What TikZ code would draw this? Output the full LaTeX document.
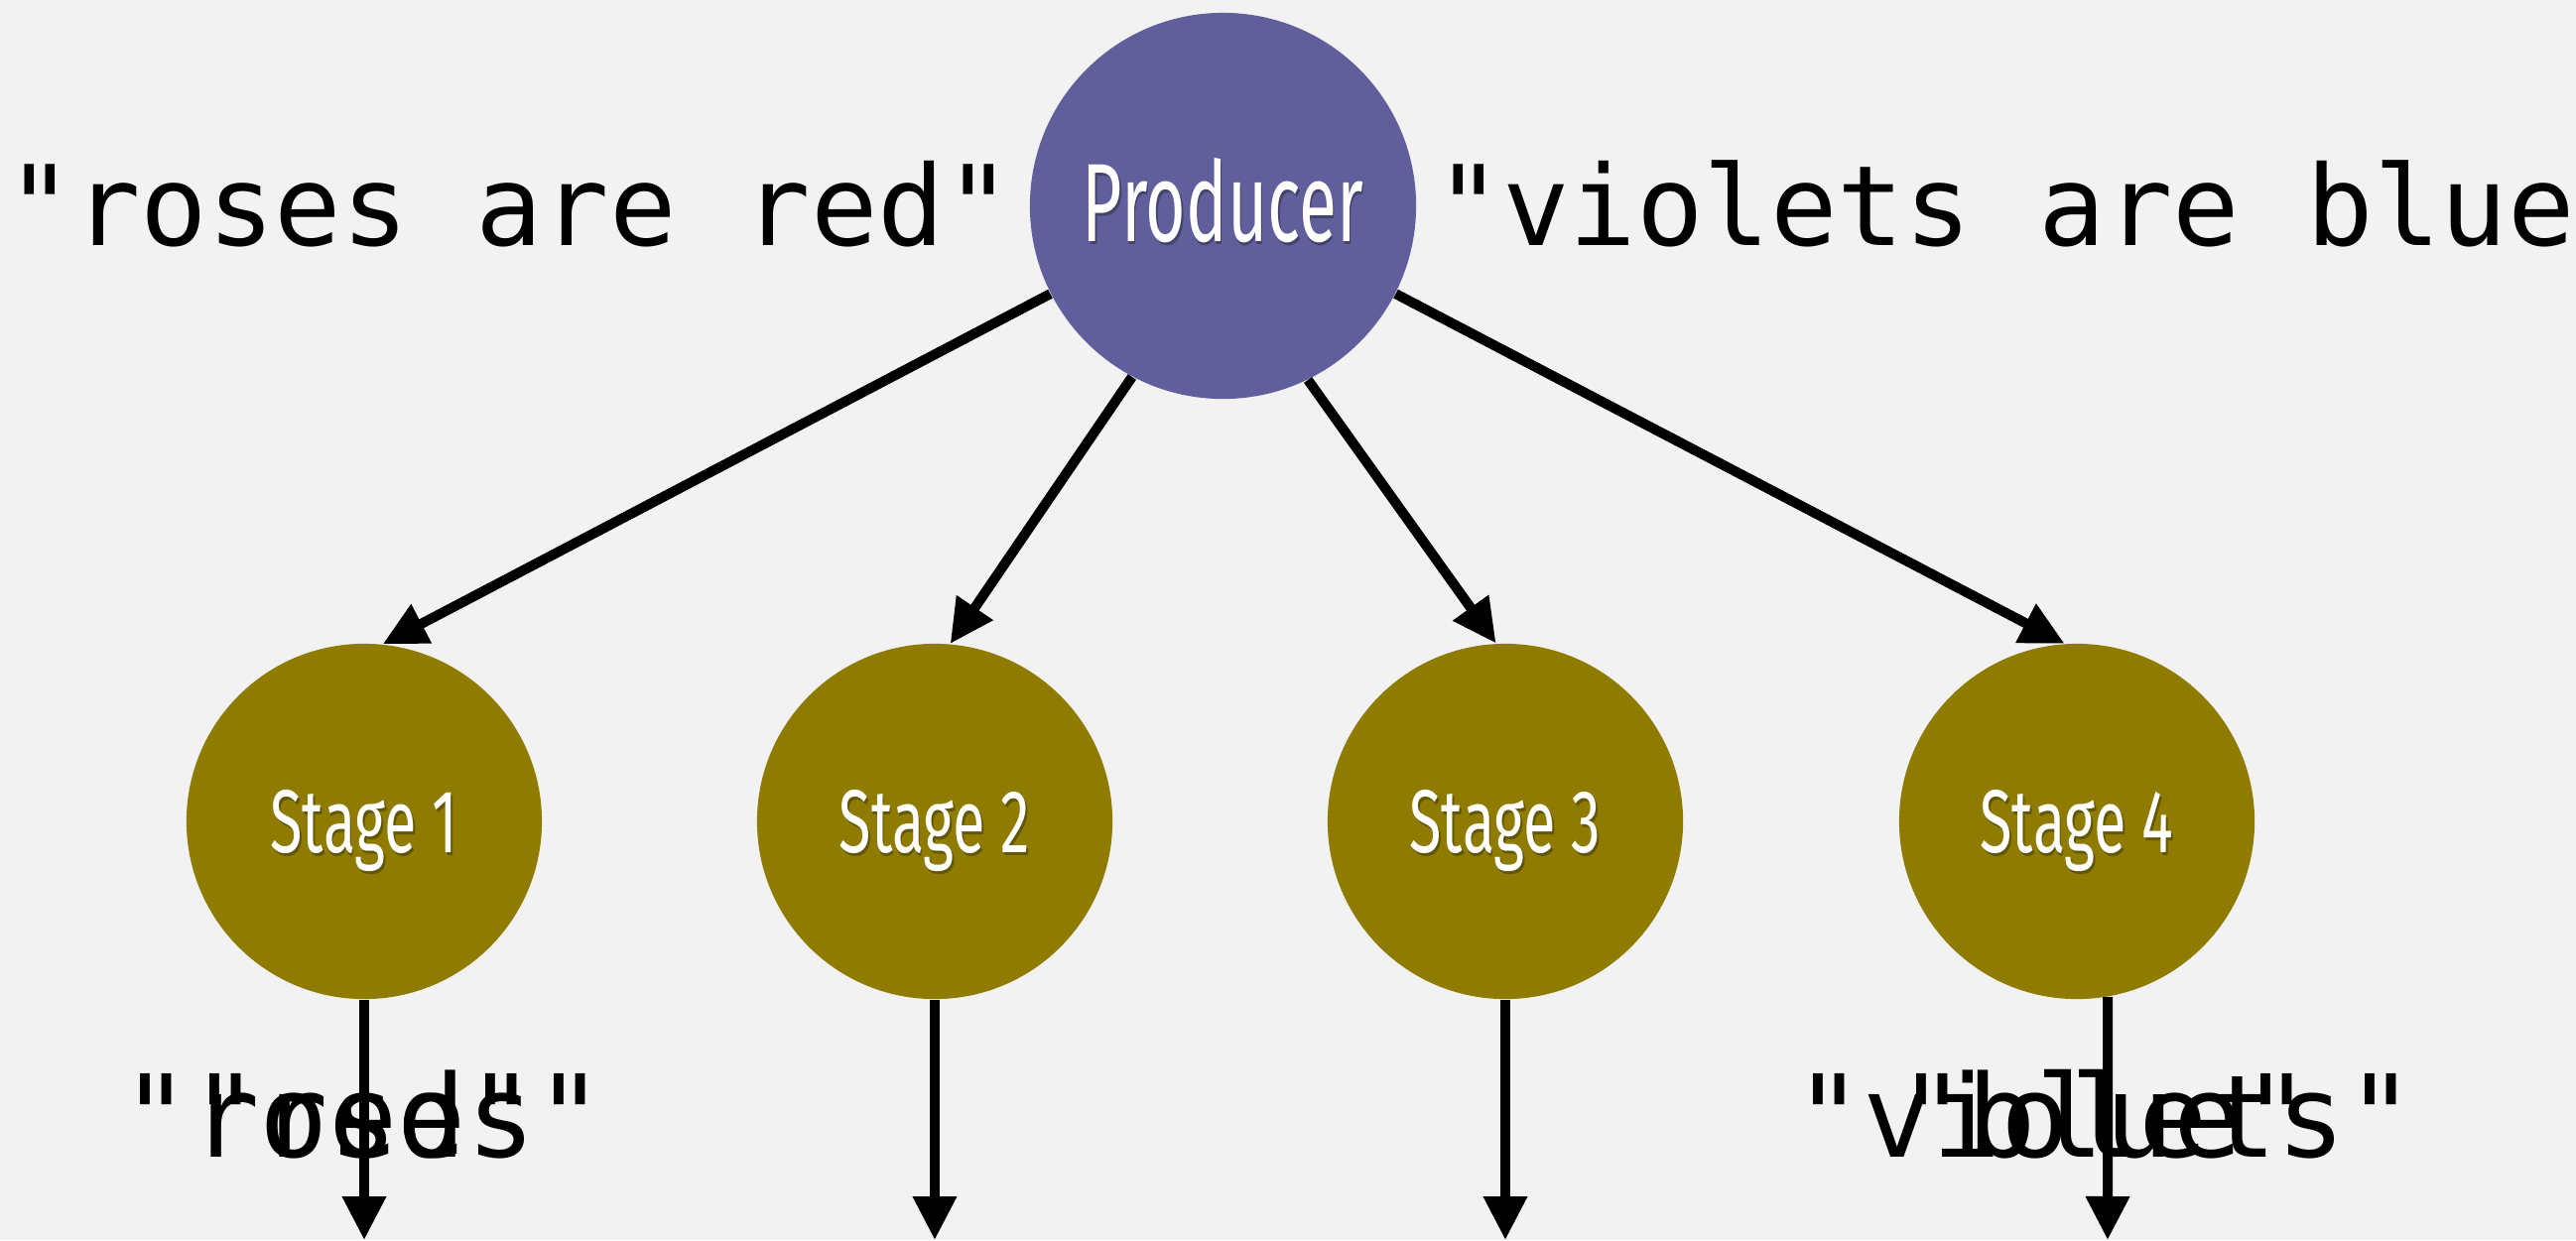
\documentclass[tikz,border=0pt]{standalone}
\usepackage{fontspec}
\usepackage{graphicx}
\usetikzlibrary{arrows.meta,calc}

\newfontfamily\codefont{DejaVu Sans Mono}
\newfontfamily\labelfont{Fira Sans}

\definecolor{bg}{HTML}{F2F2F2}
\definecolor{prodfill}{HTML}{615F9B}
\definecolor{stagefill}{HTML}{8E7B00}

% white label text with a soft dark copy offset behind it
\newcommand{\shadowed}[2]{%
  \makebox[0pt][l]{\hspace{0.7pt}\raisebox{-0.9pt}{\textcolor{#1}{#2}}}\textcolor{white}{#2}}

\begin{document}
\begin{tikzpicture}[
  x=0.01cm, y=-0.01cm,
  prodnode/.style={circle, fill=prodfill, minimum size=3.89cm, inner sep=0pt,
    font=\labelfont\fontsize{31.9}{32}\selectfont, text height=0.71cm, text depth=0pt},
  stagenode/.style={circle, fill=stagefill, minimum size=3.58cm, inner sep=0pt,
    font=\labelfont\fontsize{25.6}{26}\selectfont, text height=0.62cm, text depth=0pt},
  flow/.style={line width=0.1cm, -{Triangle[length=0.44cm,width=0.42cm]}},
  codetext/.style={font=\codefont\fontsize{31.9}{32}\selectfont, inner sep=0pt},
  wordtext/.style={font=\codefont\fontsize{32.8}{33}\selectfont, inner sep=0pt}
]
\fill[bg] (0,0) rectangle (2596,1250);
\useasboundingbox (0,0) rectangle (2596,1250);

% producer and the four stages
\node[prodnode] (prod) at (1232.5,207.5)
  {\scalebox{0.62}[1]{\shadowed{prodfill!70!black}{Producer}}};
\node[stagenode] (s1) at (367,828)
  {\scalebox{0.66}[1]{\shadowed{stagefill!70!black}{Stage 1}}};
\node[stagenode] (s2) at (942,828)
  {\scalebox{0.66}[1]{\shadowed{stagefill!70!black}{Stage 2}}};
\node[stagenode] (s3) at (1517,828)
  {\scalebox{0.66}[1]{\shadowed{stagefill!70!black}{Stage 3}}};
\node[stagenode] (s4) at (2093,828)
  {\scalebox{0.66}[1]{\shadowed{stagefill!70!black}{Stage 4}}};

% fan-out from the producer
\draw[flow] (prod.207) -- (s1.84);
\draw[flow] (prod.242) -- (s2.85);
\draw[flow] (prod.296) -- (s3.93);
\draw[flow] (prod.333) -- (s4.94);

% outputs leaving each stage
\coordinate (e1) at (367,1250);
\coordinate (e2) at (942,1250);
\coordinate (e3) at (1517,1250);
\coordinate (e4) at (2124,1250);
\draw[flow] (s1.south) -- (e1);
\draw[flow] (s2.south) -- (e2);
\draw[flow] (s3.south) -- (e3);
\draw[flow] (s4.-80) -- (e4);

% messages
\node[codetext, anchor=base west] (msg1) at (6,247) {"roses are red"};
\node[codetext, anchor=base west] (msg2) at (1446,247) {"violets are blue"};

% words arriving at the stages, printed on top of each other
\node[wordtext, anchor=base] (w1a) at (366,1166) {"roses"};
\node[wordtext, anchor=base] (w1b) at (366,1166) {"red"};
\node[wordtext, anchor=base] (w4a) at (2121,1166) {"violets"};
\node[wordtext, anchor=base] (w4b) at (2121,1166) {"blue"};
\end{tikzpicture}
\end{document}
